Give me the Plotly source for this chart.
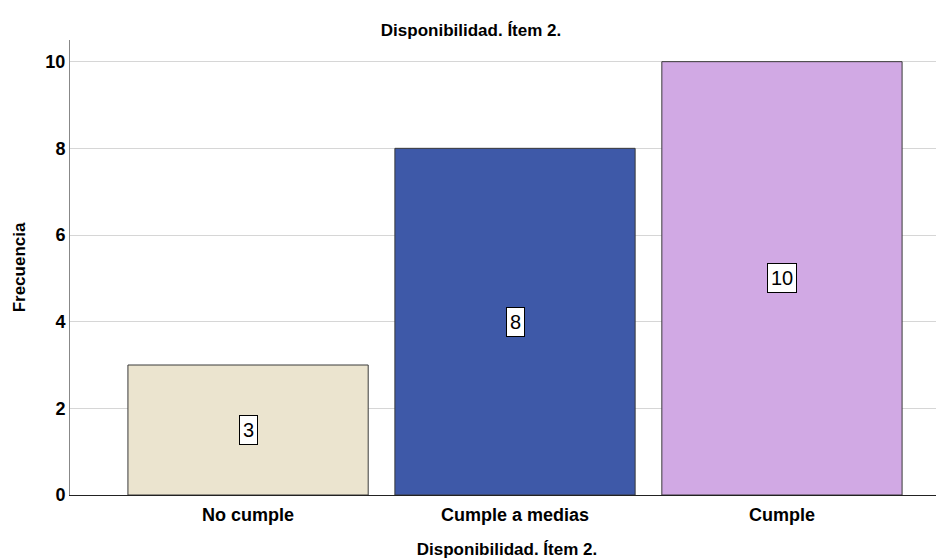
import plotly.graph_objects as go

categories = ["No cumple", "Cumple a medias", "Cumple"]
values = [3, 8, 10]
colors = ["#EBE4CF", "#3E59A8", "#D1A9E4"]
title_text = "Disponibilidad. Ítem 2."
y_title = "Frecuencia"

FONT = "Liberation Sans, Arial, sans-serif"

fig = go.Figure()
fig.add_trace(go.Bar(
    x=categories, y=values, width=0.9,
    marker=dict(color=colors, line=dict(color="#3a3a3a", width=1)),
    hoverinfo="x+y",
))
for c, v in zip(categories, values):
    fig.add_annotation(x=c, y=v / 2, text=str(v), showarrow=False,
                       font=dict(family=FONT, size=20, color="black", weight="normal"),
                       bgcolor="white", bordercolor="black", borderwidth=1, borderpad=3)

fig.update_layout(
    width=936, height=551,
    margin=dict(l=62, r=0, t=32, b=64),
    paper_bgcolor="white", plot_bgcolor="white",
    showlegend=False,
    font=dict(family=FONT, color="black", size=17),
    title=dict(text=title_text, xref="container", x=0.4947, xanchor="center",
               yref="container", y=1 - 22 / 551, yanchor="middle",
               font=dict(size=17, color="black", weight="bold")),
)
fig.update_xaxes(
    range=[-0.667, 2.607], showgrid=False,
    showline=True, linecolor="#222", linewidth=1,
    ticks="", tickfont=dict(size=18, weight="bold"), ticklabelstandoff=3,
    title=dict(text=title_text, font=dict(size=17, weight="bold"), standoff=20),
)
fig.update_yaxes(
    range=[0, 10.5], dtick=2, showgrid=True, gridcolor="#D6D6D6", gridwidth=1,
    zeroline=False, showline=True, linecolor="#888", linewidth=1,
    ticks="", tickfont=dict(size=18, weight="bold"),
    title=dict(text=y_title, font=dict(size=17, weight="bold"), standoff=15),
)
fig.write_html("out.html")
